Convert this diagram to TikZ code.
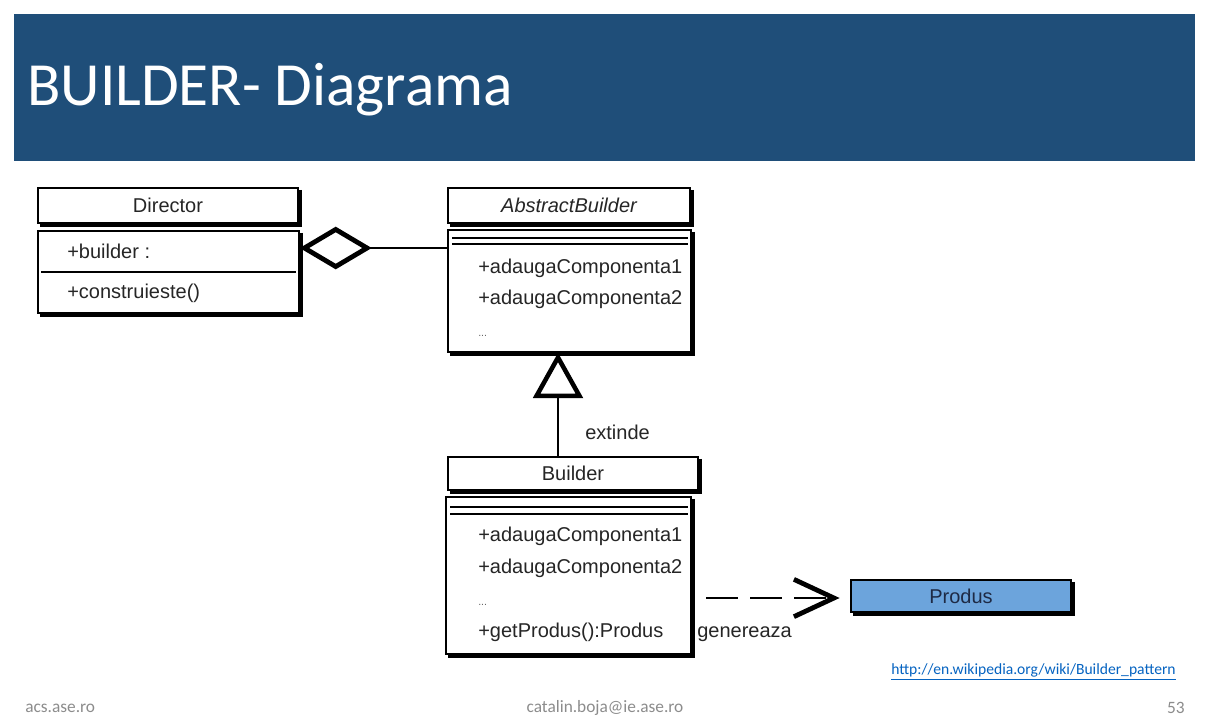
\documentclass[tikz,border=0pt]{standalone}
\usepackage{fontspec}
\setmainfont{Carlito}
\newfontfamily\umlfont{Liberation Sans}
\usetikzlibrary{arrows.meta,fit}
\definecolor{titleblue}{HTML}{1F4E79}
\definecolor{produsblue}{HTML}{6CA4DC}
\definecolor{produstext}{HTML}{1E2A45}
\definecolor{footgrey}{HTML}{8C8C8C}
\definecolor{linkblue}{HTML}{0563C1}
\newcommand\skshadow[1]{\draw[shadowline] ([xshift=1.3pt,yshift=-2pt]#1.north east) -- ([xshift=1.3pt,yshift=-1.3pt]#1.south east) -- ([xshift=2pt,yshift=-1.3pt]#1.south west);}
\begin{document}
\begin{tikzpicture}[x=0.75pt,y=-0.75pt,
  box/.style={draw=black, line width=1.1pt, inner sep=0pt, fill=white},
  shadowline/.style={draw=black, line width=2.2pt},
  sepline/.style={draw=black, line width=1pt},
  umltxt/.style={font=\umlfont\fontsize{15}{18}\selectfont, inner sep=0pt, text=black!85},
  dotstxt/.style={font=\umlfont\fontsize{8}{10}\selectfont, inner sep=0pt, text=black!60},
  foot/.style={font=\fontsize{13}{15}\selectfont, text=footgrey, inner sep=0pt},
  agg/.style={line width=1.3pt, {Diamond[open, length=54pt, width=32pt, line width'=3.6pt]}-},
  inh/.style={line width=1.3pt, {Triangle[open, length=34pt, width=37pt, line width'=3.4pt]}-},
  dep/.style={line width=1.6pt, dash pattern=on 24pt off 9pt, -{Straight Barb[length=30pt, width=28pt, line width'=3.6pt]}}
]
\useasboundingbox (0,0) rectangle (1218,728);
\fill[white] (0,0) rectangle (1218,728);

% title bar
\node[fit={(14,14)(1195,161)}, inner sep=0pt, fill=titleblue] (titlebar) {};
\node[anchor=base west, text=white, font=\fontsize{46}{50}\selectfont, inner sep=0pt] (title) at (27,105) {BUILDER- Diagrama};

% Director
\node[box, fit={(38,188)(298,223)}] (dirH) {};
\skshadow{dirH}
\node[umltxt] (dirHt) at (dirH.center) {Director};
\node[box, fit={(38,231)(299,313)}] (dirB) {};
\skshadow{dirB}
\draw[sepline] (41,272) -- (296,272);
\node[umltxt, anchor=west] (dirA) at (67,251) {+builder :};
\node[umltxt, anchor=west] (dirM) at (67,293) {+construieste()};

% AbstractBuilder
\node[box, fit={(448,188)(690,223)}] (absH) {};
\skshadow{absH}
\node[umltxt, font=\umlfont\itshape\fontsize{15}{18}\selectfont] (absHt) at (absH.center) {AbstractBuilder};
\node[box, fit={(448,230)(691,352)}] (absB) {};
\skshadow{absB}
\draw[sepline] (452,238) -- (688,238);
\draw[sepline] (452,244) -- (688,244);
\node[umltxt, anchor=west] (absM1) at (478,268) {+adaugaComponenta1};
\node[umltxt, anchor=west] (absM2) at (478,299) {+adaugaComponenta2};
\node[dotstxt, anchor=west] (absM3) at (478,336) {...};

% Builder
\node[box, fit={(448,457)(698,490)}] (bldH) {};
\skshadow{bldH}
\node[umltxt] (bldHt) at (bldH.center) {Builder};
\node[box, fit={(446,497)(691,654)}] (bldB) {};
\skshadow{bldB}
\draw[sepline] (450,507) -- (688,507);
\draw[sepline] (450,514) -- (688,514);
\node[umltxt, anchor=west] (bldM1) at (478,536) {+adaugaComponenta1};
\node[umltxt, anchor=west] (bldM2) at (478,568) {+adaugaComponenta2};
\node[dotstxt, anchor=west] (bldM3) at (478,605) {...};
\node[umltxt, anchor=west] (bldM4) at (478,632) {+getProdus():Produs};

% Produs
\node[box, fill=produsblue, fit={(851,580)(1071,612)}] (prod) {};
\skshadow{prod}
\node[umltxt, text=produstext] (prodt) at (prod.center) {Produs};

% connectors
\coordinate (aggY) at (0,248);
\draw[agg] (dirB.east |- aggY) -- (absB.west |- aggY);

\coordinate (inhX) at (558,0);
\draw[inh] (absB.south -| inhX) -- (bldH.north -| inhX);
\node[umltxt, anchor=west] (extl) at (585,432) {extinde};

\coordinate (depY) at (0,598);
\draw[dep, shorten <=11pt, shorten >=8pt] (bldB.east |- depY) -- (prod.west |- depY);
\node[umltxt, anchor=west] (genl) at (697,634) {genereaza};

% footer
\node[anchor=west, font=\fontsize{11.7}{14}\selectfont, text=linkblue, inner sep=0pt] (url) at (891,672) {\underline{http://en.wikipedia.org/wiki/Builder\_pattern}};
\node[foot, anchor=west] (f1) at (25,708) {acs.ase.ro};
\node[foot] (f2) at (605,708) {catalin.boja@ie.ase.ro};
\node[foot, anchor=east] (f3) at (1185,708) {53};
\end{tikzpicture}
\end{document}
